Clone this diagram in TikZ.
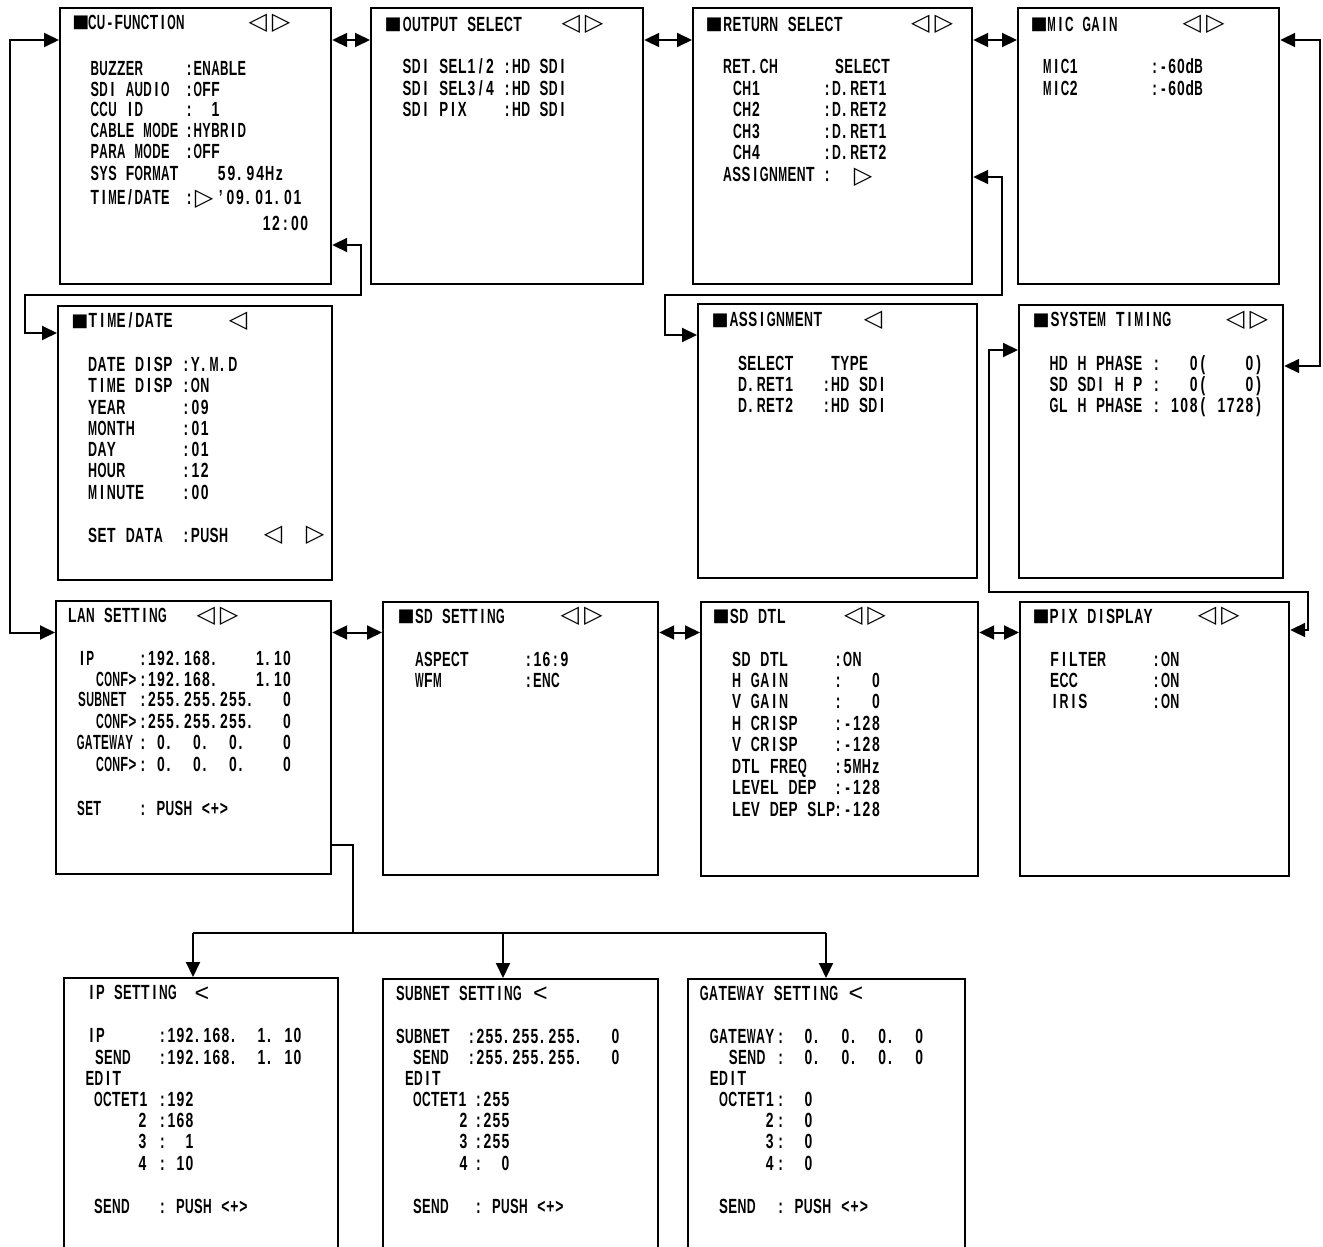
\documentclass[tikz,border=0pt]{standalone}
\usepackage{fontspec}
\usepackage{graphicx}
\usetikzlibrary{arrows.meta}
\setmainfont{Liberation Sans}[FakeStretch=0.68]
\newfontfamily\symf{DejaVu Sans}
\newfontfamily\ltf{Liberation Sans}
\ExplSyntaxOn
\dim_new:N \l_mono_cw_dim
\cs_new_protected:Npn \mono_char:n #1
  {
    \str_if_eq:nnTF {#1} {.}
      { \makebox[\l_mono_cw_dim][l]{\hspace*{1.2pt}.} }
      {
        \str_if_eq:nnTF {#1} {_}
          { \hbox_to_wd:nn {\l_mono_cw_dim} {} }
          {
            \hbox_set:Nn \l_tmpa_box {#1}
            \dim_compare:nNnTF {\box_wd:N \l_tmpa_box} > {0.96\l_mono_cw_dim}
              { \makebox[\l_mono_cw_dim][c]{\resizebox{0.96\l_mono_cw_dim}{\height}{#1}} }
              { \makebox[\l_mono_cw_dim][c]{#1} }
          }
      }
  }
\NewDocumentCommand \mono { O{9} m }
  {
    \dim_set:Nn \l_mono_cw_dim {#1pt}
    \str_map_inline:nn {#2} { \mono_char:n {##1} }
  }
\ExplSyntaxOff
\newcounter{tn}
\newcommand\monodefault{9}
\newcommand\TL[4][\monodefault]{\stepcounter{tn}\node[txt] (t\arabic{tn}) at (#2,#3) {\mono[#1]{#4}};}
\newcommand\SY[3]{\stepcounter{tn}\node[sym] (t\arabic{tn}) at (#1,#2) {#3};}
\newcommand\SQ[2]{\stepcounter{tn}\node[sq] (t\arabic{tn}) at (#1,#2) {■};}
\newcommand\LT[2]{\stepcounter{tn}\node[lt] (t\arabic{tn}) at (#1,#2) {<};}
\newcommand\BOX[5]{\node[scr,minimum width=#4pt,minimum height=#5pt,anchor=north west] (#1) at (#2,#3) {};}
\newcommand\LR{◁\kern5pt▷}
\begin{document}
\begin{tikzpicture}[x=1pt,y=-1pt,
  txt/.style={anchor=base west,inner sep=0pt,outer sep=0pt,font=\bfseries\fontsize{20.5}{22}\selectfont},
  sym/.style={anchor=center,inner sep=0pt,outer sep=0pt,font=\symf\fontsize{24}{26}\selectfont},
  sq/.style={anchor=center,inner sep=0pt,outer sep=0pt,font=\symf\fontsize{18}{20}\selectfont},
  lt/.style={anchor=center,inner sep=0pt,outer sep=0pt,font=\ltf\fontsize{25}{27}\selectfont},
  scr/.style={draw,line width=2.2pt,inner sep=0pt},
  conn/.style={line width=2pt},
  arr/.style={-{Triangle[length=15pt,width=14pt]}},
  biarr/.style={{Triangle[length=15pt,width=14pt]}-{Triangle[length=15pt,width=14pt]}}]
\clip (0,0) rectangle (1323,1247);
\fill[white] (0,0) rectangle (1323,1247);
% ---------- boxes
\BOX{cu}{59}{7}{271}{276}
\BOX{out}{370}{7}{272}{276}
\BOX{ret}{692}{7}{279}{276}
\BOX{mic}{1017}{7}{261}{276}
\BOX{td}{57}{305}{274}{274}
\BOX{asg}{697}{303}{279}{274}
\BOX{sys}{1018}{304}{264}{273}
\BOX{lan}{55}{600}{275}{273}
\BOX{sds}{382}{601}{275}{273}
\BOX{dtl}{700}{601}{277}{274}
\BOX{pix}{1019}{601}{269}{274}
\BOX{ips}{63}{977}{274}{290}
\BOX{sub}{382}{978}{275}{290}
\BOX{gw}{687}{978}{277}{290}
% ---------- connectors
\coordinate (r1) at (0,40);
\coordinate (r3) at (0,632.5);
\draw[conn,biarr] (cu.east|-r1) -- (out.west|-r1);
\draw[conn,biarr] (out.east|-r1) -- (ret.west|-r1);
\draw[conn,biarr] (ret.east|-r1) -- (mic.west|-r1);
\draw[conn,biarr] (lan.east|-r3) -- (sds.west|-r3);
\draw[conn,biarr] (sds.east|-r3) -- (dtl.west|-r3);
\draw[conn,biarr] (dtl.east|-r3) -- (pix.west|-r3);
\coordinate (la) at (10,0);
\draw[conn,biarr] (cu.west|-r1) -- (la|-r1) -- (la|-r3) -- (lan.west|-r3);
\coordinate (b1) at (361,245); \coordinate (b2) at (25,295); \coordinate (b3) at (0,333);
\draw[conn,biarr] (cu.east|-b1) -- (b1) -- (b1|-b2) -- (b2) -- (b2|-b3) -- (td.west|-b3);
\coordinate (c1) at (1002,177); \coordinate (c2) at (665,295); \coordinate (c3) at (0,335);
\draw[conn,biarr] (ret.east|-c1) -- (c1) -- (c1|-c2) -- (c2) -- (c2|-c3) -- (asg.west|-c3);
\coordinate (d1) at (1320,40); \coordinate (d2) at (0,366);
\draw[conn,biarr] (mic.east|-d1) -- (d1) -- (d1|-d2) -- (sys.east|-d2);
\coordinate (e1) at (989,350); \coordinate (e2) at (1308,592); \coordinate (e3) at (0,630);
\draw[conn,biarr] (sys.west|-e1) -- (e1) -- (e1|-e2) -- (e2) -- (e2|-e3) -- (pix.east|-e3);
\coordinate (f1) at (353,845); \coordinate (f2) at (0,933);
\coordinate (g1) at (193,933); \coordinate (g2) at (503,933); \coordinate (g3) at (826,933);
\draw[conn] (lan.east|-f1) -- (f1) -- (f1|-f2);
\draw[conn] (g1) -- (g3);
\draw[conn,arr] (g1) -- (ips.north-|g1);
\draw[conn,arr] (g2) -- (sub.north-|g2);
\draw[conn,arr] (g3) -- (gw.north-|g3);
% ---------- CU-FUNCTION
\renewcommand\monodefault{8.8}
\SQ{81}{23}\TL{88}{29.3}{CU-FUNCTION}\SY{269.5}{23}{\LR}
\TL{90.5}{75.3}{BUZZER}\TL{184.7}{75.3}{:ENABLE}
\TL{90.5}{96}{SDI AUDIO}\TL{184.7}{96}{:OFF}
\TL{90.5}{116.5}{CCU ID}\TL{184.7}{116.5}{:__1}
\TL{90.5}{137.3}{CABLE MODE}\TL{184.7}{137.3}{:HYBRID}
\TL{90.5}{158.3}{PARA MODE}\TL{184.7}{158.3}{:OFF}
\TL{90.5}{180}{SYS FORMAT}\TL[9.6]{217}{180}{59.94Hz}
\TL{90.5}{204}{TIME/DATE}\TL{184.7}{204}{:}\SY{204}{199}{▷}\TL[9.6]{216}{204}{'09.01.01}
\TL[9.4]{262}{230}{12:00}
% ---------- OUTPUT SELECT
\renewcommand\monodefault{9.2}
\SQ{393}{25}\TL{402.7}{31.7}{OUTPUT SELECT}\SY{582.5}{24}{\LR}
\TL{402.5}{74}{SDI SEL1/2}\TL{502.7}{74}{:HD SDI}
\TL{402.5}{95.7}{SDI SEL3/4}\TL{502.7}{95.7}{:HD SDI}
\TL{402.5}{116.7}{SDI PIX}\TL{502.7}{116.7}{:HD SDI}
% ---------- RETURN SELECT
\SQ{714}{25}\TL{723.3}{31.7}{RETURN SELECT}\SY{932}{24}{\LR}
\TL{723}{74}{RET.CH}\TL{835}{74}{SELECT}
\TL{733}{95.7}{CH1}\TL{822.7}{95.7}{:D.RET1}
\TL{733}{116.7}{CH2}\TL{822.7}{116.7}{:D.RET2}
\TL{733}{138.3}{CH3}\TL{822.7}{138.3}{:D.RET1}
\TL{733}{159.3}{CH4}\TL{822.7}{159.3}{:D.RET2}
\TL{723}{181.7}{ASSIGNMENT}\TL{822.7}{181.7}{:}\SY{863}{177}{▷}
% ---------- MIC GAIN
\renewcommand\monodefault{8.8}
\SQ{1039}{25}\TL{1047.3}{31.7}{MIC GAIN}\SY{1203.5}{24}{\LR}
\TL{1043}{74}{MIC1}\TL{1150.3}{74}{:-60dB}
\TL{1043}{95.7}{MIC2}\TL{1150.3}{95.7}{:-60dB}
% ---------- TIME/DATE
\renewcommand\monodefault{9.4}
\SQ{80}{321.4}\TL{88.3}{327.7}{TIME/DATE}\SY{238}{321.7}{◁}
\TL{88}{371.7}{DATE DISP}\TL{181.3}{371.7}{:Y.M.D}
\TL{88}{392.7}{TIME DISP}\TL{181.3}{392.7}{:ON}
\TL{88}{414}{YEAR}\TL{181.3}{414}{:09}
\TL{88}{435}{MONTH}\TL{181.3}{435}{:01}
\TL{88}{456.7}{DAY}\TL{181.3}{456.7}{:01}
\TL{88}{477.7}{HOUR}\TL{181.3}{477.7}{:12}
\TL{88}{499.3}{MINUTE}\TL{181.3}{499.3}{:00}
\TL{88}{542.3}{SET DATA}\TL{181.3}{542.3}{:PUSH}\SY{273}{535.7}{◁}\SY{315}{535.7}{▷}
% ---------- ASSIGNMENT
\renewcommand\monodefault{9.3}
\SQ{720}{320.4}\TL{729.5}{326.7}{ASSIGNMENT}\SY{873}{320}{◁}
\TL{738}{370}{SELECT____TYPE}
\TL{738}{391.7}{D.RET1___:HD SDI}
\TL{738}{412.7}{D.RET2___:HD SDI}
% ---------- SYSTEM TIMING
\SQ{1041}{320.4}\TL{1050.5}{326.7}{SYSTEM TIMING}\SY{1247}{320}{\LR}
\TL{1049.5}{370}{HD H PHASE :___0(____0)}
\TL{1049.5}{391.7}{SD SDI H P :___0(____0)}
\TL{1049.5}{412.7}{GL H PHASE : 108( 1728)}
% ---------- LAN SETTING
\renewcommand\monodefault{9}
\TL{68}{622.3}{LAN SETTING}\SY{217.5}{616}{\LR}
\TL[8.1]{78}{665}{IP}\TL{138.5}{665}{:192.168.____1.10}
\TL[8.1]{96}{686}{CONF>}\TL{138.5}{686}{:192.168.____1.10}
\TL[8.1]{78}{706.7}{SUBNET}\TL{138.5}{706.7}{:255.255.255.___0}
\TL[8.1]{96}{728.3}{CONF>}\TL{138.5}{728.3}{:255.255.255.___0}
\TL[8.1]{76.7}{749.3}{GATEWAY}\TL{138.5}{749.3}{: 0.__0.__0.____0}
\TL[8.1]{96}{771.7}{CONF>}\TL{138.5}{771.7}{: 0.__0.__0.____0}
\TL[8.1]{77}{815}{SET}\TL{138.5}{815}{: PUSH <+>}
% ---------- SD SETTING
\SQ{406}{617}\TL{415}{623.3}{SD SETTING}\SY{581.7}{616}{\LR}
\TL{415}{666.7}{ASPECT}\TL{524}{666.7}{:16:9}
\TL{415}{687.7}{WFM}\TL{524}{687.7}{:ENC}
% ---------- SD DTL
\renewcommand\monodefault{9.4}
\SQ{721}{617}\TL{729.7}{623.3}{SD DTL}\SY{865}{616}{\LR}
\TL{732}{666.7}{SD DTL}\TL{833.6}{666.7}{:ON}
\TL{732}{687.7}{H GAIN}\TL{833.6}{687.7}{:___0}
\TL{732}{708.7}{V GAIN}\TL{833.6}{708.7}{:___0}
\TL{732}{730}{H CRISP}\TL{833.6}{730}{:-128}
\TL{732}{751.7}{V CRISP}\TL{833.6}{751.7}{:-128}
\TL{732}{773.3}{DTL FREQ}\TL{833.6}{773.3}{:5MHz}
\TL{732}{794.3}{LEVEL DEP}\TL{833.6}{794.3}{:-128}
\TL{732}{816}{LEV DEP SLP}\TL{833.6}{816}{:-128}
% ---------- PIX DISPLAY
\SQ{1041}{617}\TL{1049.5}{623.3}{PIX DISPLAY}\SY{1218.7}{616}{\LR}
\TL{1050}{666.7}{FILTER}\TL{1151.4}{666.7}{:ON}
\TL{1050}{687.7}{ECC}\TL{1151.4}{687.7}{:ON}
\TL{1050}{708.7}{IRIS}\TL{1151.4}{708.7}{:ON}
% ---------- IP SETTING
\renewcommand\monodefault{9}
\TL{87}{999.3}{IP SETTING}\LT{202}{994}
\TL{87}{1042.7}{IP}\TL{158}{1042.7}{:192.168.__1. 10}
\TL{95}{1064}{SEND}\TL{158}{1064}{:192.168.__1. 10}
\TL{85.5}{1085}{EDIT}
\TL{94}{1106.7}{OCTET1}\TL{158}{1106.7}{:192}
\TL{138}{1127.7}{2}\TL{158}{1127.7}{:168}
\TL{138}{1148.5}{3}\TL{158}{1148.5}{:__1}
\TL{138}{1170}{4}\TL{158}{1170}{: 10}
\TL{94}{1213.3}{SEND}\TL{158}{1213.3}{: PUSH <+>}
% ---------- SUBNET SETTING
\TL{396}{1000.7}{SUBNET SETTING}\LT{540.5}{994}
\TL{396}{1043.3}{SUBNET}\TL{467}{1043.3}{:255.255.255.___0}
\TL{413}{1064.3}{SEND}\TL{467}{1064.3}{:255.255.255.___0}
\TL{405}{1085}{EDIT}
\TL{413}{1106.7}{OCTET1}\TL{474}{1106.7}{:255}
\TL{459}{1127.7}{2}\TL{474}{1127.7}{:255}
\TL{459}{1148.5}{3}\TL{474}{1148.5}{:255}
\TL{459}{1170}{4}\TL{474}{1170}{:__0}
\TL{413}{1213.3}{SEND}\TL{474}{1213.3}{: PUSH <+>}
% ---------- GATEWAY SETTING
\renewcommand\monodefault{9.25}
\TL{699.8}{1000.7}{GATEWAY SETTING}\LT{856}{994}
\TL{709.6}{1043.3}{GATEWAY}\TL{776}{1043.3}{:__0.__0.__0.__0}
\TL{728.6}{1064.3}{SEND}\TL{776}{1064.3}{:__0.__0.__0.__0}
\TL{709.6}{1085}{EDIT}
\TL{719}{1106.7}{OCTET1}\TL{776}{1106.7}{:__0}
\TL{765}{1127.7}{2}\TL{776}{1127.7}{:__0}
\TL{765}{1148.5}{3}\TL{776}{1148.5}{:__0}
\TL{765}{1170}{4}\TL{776}{1170}{:__0}
\TL{719}{1213.3}{SEND}\TL{776}{1213.3}{: PUSH <+>}
\end{tikzpicture}
\end{document}
